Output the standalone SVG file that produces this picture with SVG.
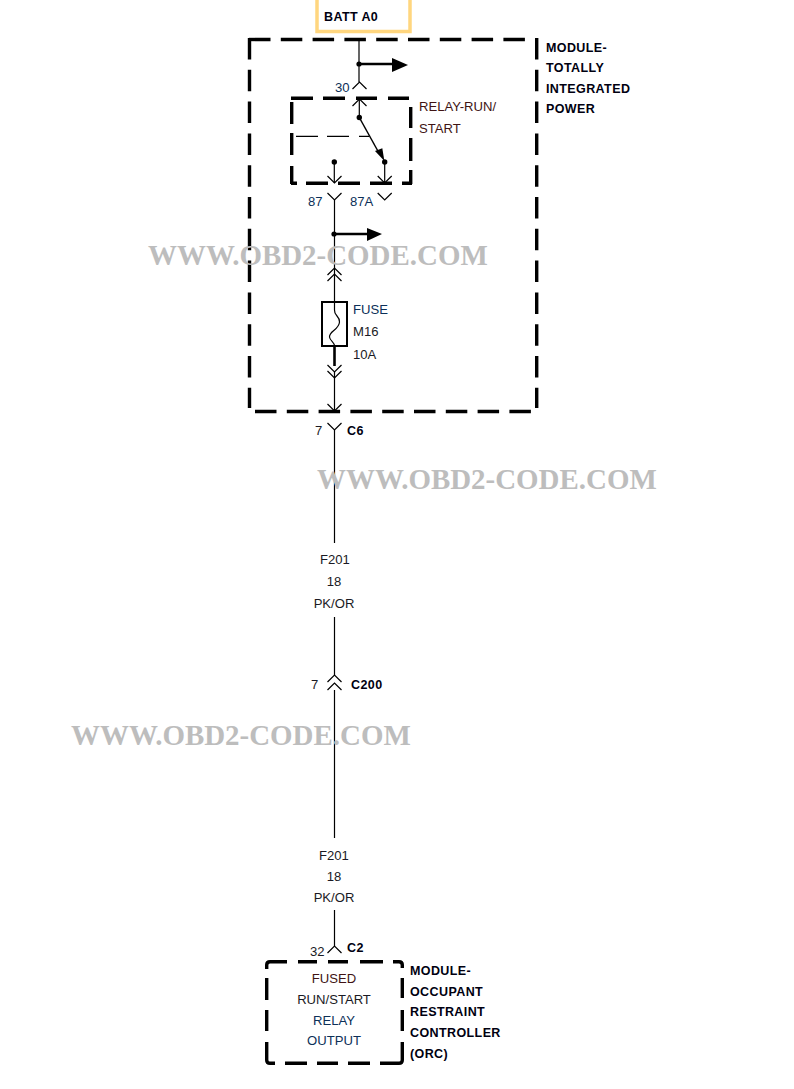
<svg xmlns="http://www.w3.org/2000/svg" width="794" height="1089" viewBox="0 0 794 1089">
<style>
.t{font-family:"Liberation Sans",Arial,sans-serif;font-size:13.100px;fill:#1a1a24}
.b{font-family:"Liberation Sans",Arial,sans-serif;font-size:12.500px;font-weight:bold;fill:#000010;letter-spacing:.4px}
.blue{fill:#0c3058}.red{fill:#401414}
.c{text-anchor:middle}
.w{fill:none;stroke:#000;stroke-width:1.200}
.h{fill:none;stroke:#000;stroke-width:2.600}
.d{fill:none;stroke:#000;stroke-width:3.400}
.dm{stroke-dasharray:21.500 10.300}
.wm{font-family:"Liberation Serif",serif;font-weight:bold;font-size:28.950px;fill:#bdbdbd}
</style>
<defs>
<path id="up" class="w" d="M-7 7L0 0L7 7"/>
<path id="dn" class="w" d="M-7 -7L0 0L7 -7"/>
</defs>
<g id="batt">
<path d="M317 0V31.500H410V0" fill="none" stroke="#ffd67f" stroke-width="3.500"/>
<text class="b" x="324" y="21">BATT A0</text>
</g>
<g id="module-tip">
<path class="d dm" d="M249 39.500H526"/>
<path class="d dm" d="M249.500 38V408"/>
<path class="d dm" d="M536.700 38V408"/>
<path class="d dm" d="M255 411.500H532"/>
<text class="b" x="546" y="52">MODULE-</text>
<text class="b" x="546" y="72">TOTALLY</text>
<text class="b" x="546" y="93">INTEGRATED</text>
<text class="b" x="546" y="113">POWER</text>
</g>
<g id="relay">
<path class="d" d="M291 98.300H313M323 98.300H345M356 98.300H377M388 98.300H409M291.700 102V124M291.700 133V155M291.700 166V184M410.700 107V128M410.700 138V161M410.700 170V184M291 183.300H297M306 183.300H328M338 183.300H360M370 183.300H392M402 183.300H412"/>
<text class="t red" x="419" y="111">RELAY-RUN/</text>
<text class="t red" x="419" y="133">START</text>
<path class="w" d="M296 136.400H318M327 136.400H349M359 136.400H369"/>
<circle cx="359.300" cy="117.500" r="2.700"/>
<circle cx="334.300" cy="162" r="2.700"/>
<circle cx="384.700" cy="162" r="2.700"/>
<path class="w" d="M359.300 117.500L379 153" style="stroke-width:1.500"/>
<path d="M375 151L382.300 148.300L384.400 161Z"/>
<path class="w" d="M359.300 99V117.500M334.300 162V183M384.700 162V183"/>
<use href="#up" x="359.500" y="99"/>
<use href="#dn" x="334.500" y="183"/>
<use href="#dn" x="384.700" y="183"/>
</g>
<g id="fuse">
<rect x="322" y="302" width="25" height="44" fill="#fff" stroke="#000" stroke-width="2"/>
<path class="w" d="M334.500 302V310C334 316 340 316 339.500 322C339 330 329 331 329.500 337C330 341 334.500 342 334.500 346"/>
<text class="t blue" x="353" y="314">FUSE</text>
<text class="t" x="353" y="336">M16</text>
<text class="t" x="353" y="359">10A</text>
</g>
<g id="connectors">
<path class="w" d="M359 40V82M334.500 200V302M334.500 372V411M334.500 430V543M334.500 617V675M334.500 690V838M334.500 910V946"/>
<path class="h" d="M334.500 346V366"/>
<path class="h" d="M359 64H393M334.500 234H368"/>
<circle cx="359" cy="64" r="2.600"/>
<circle cx="334" cy="234" r="2.600"/>
<path d="M392 58V72L408 65Z"/>
<path d="M367 228V241L382 234Z"/>
<use href="#up" x="359.500" y="82"/>
<use href="#dn" x="334.500" y="200"/>
<use href="#dn" x="384.700" y="200"/>
<use href="#up" x="334.500" y="268"/>
<use href="#up" x="334.500" y="274"/>
<use href="#dn" x="334.500" y="372"/>
<use href="#dn" x="334.500" y="378"/>
<use href="#dn" x="334.500" y="411"/>
<use href="#dn" x="334.500" y="430"/>
<use href="#up" x="334.500" y="675"/>
<use href="#up" x="334.500" y="683"/>
<use href="#up" x="334.500" y="946"/>
</g>
<g id="labels">
<text class="t blue" x="335" y="92">30</text>
<text class="t blue" x="308" y="206">87</text>
<text class="t blue" x="350" y="206">87A</text>
<text class="t" x="315" y="435">7</text>
<text class="b" x="347" y="435">C6</text>
<text class="t c" x="335" y="564">F201</text>
<text class="t c" x="334" y="586">18</text>
<text class="t c" x="334" y="608">PK/OR</text>
<text class="t" x="311" y="689">7</text>
<text class="b" x="351" y="689">C200</text>
<text class="t c" x="334" y="860">F201</text>
<text class="t c" x="334" y="881">18</text>
<text class="t c" x="334" y="902">PK/OR</text>
<text class="t" x="310" y="956">32</text>
<text class="b" x="347" y="952">C2</text>
</g>
<g id="module-orc">
<path class="d" d="M266.700 969V965Q266.700 961.700 270 961.700H287M298 961.700H317M328 961.700H348M360 961.700H383M393 961.700H399Q402.300 961.700 402.300 965V968M266.700 978V1000M266.700 1010V1031M266.700 1042V1060Q266.700 1063.300 270 1063.300H275M285 1063.300H307M317 1063.300H338M348 1063.300H370M380 1063.300H399Q402.300 1063.300 402.300 1060V1042M402.300 978V998M402.300 1010V1031"/>
<text class="t c red" x="334" y="983">FUSED</text>
<text class="t c" x="334" y="1004">RUN/START</text>
<text class="t c blue" x="334" y="1025">RELAY</text>
<text class="t c blue" x="334" y="1045">OUTPUT</text>
<text class="b" x="410" y="975">MODULE-</text>
<text class="b" x="410" y="996">OCCUPANT</text>
<text class="b" x="410" y="1016">RESTRAINT</text>
<text class="b" x="410" y="1037">CONTROLLER</text>
<text class="b" x="410" y="1058">(ORC)</text>
</g>
<g id="watermarks">
<text class="wm" x="148" y="265">WWW.OBD2-CODE.COM</text>
<text class="wm" x="317" y="489">WWW.OBD2-CODE.COM</text>
<text class="wm" x="71" y="745">WWW.OBD2-CODE.COM</text>
</g>
</svg>
